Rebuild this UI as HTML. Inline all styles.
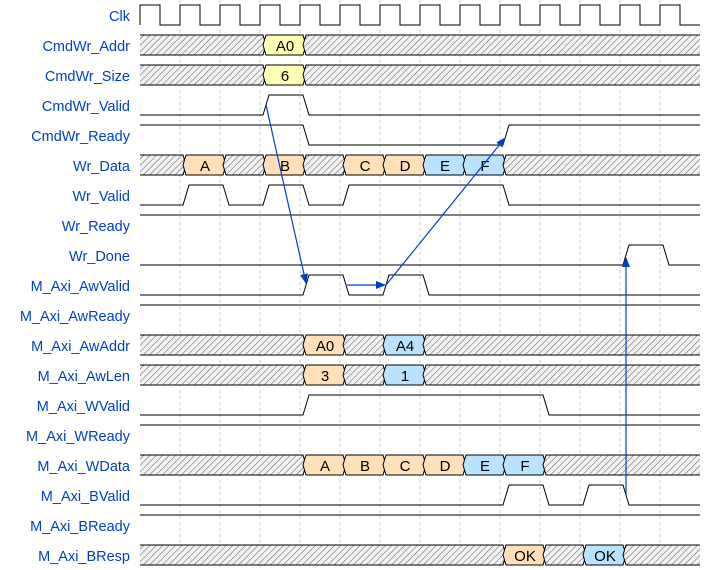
<!DOCTYPE html>
<html><head><meta charset="utf-8"><style>
body{margin:0;background:#fff}
svg{display:block;font-family:"Liberation Sans",sans-serif}
.l{fill:#0041c4;font-size:14.5px;text-anchor:end}
.w{fill:none;stroke:#000;stroke-width:1}
.hf{fill:url(#hp);stroke:none}
.hs{fill:url(#hp);stroke:#000}
.y{fill:#ffffb4;stroke:#000}
.o{fill:#ffe0b9;stroke:#000}
.b{fill:#bae3ff;stroke:#000}
.t{font-size:15px;text-anchor:middle;fill:#000}
.a{stroke:#0041c4;stroke-width:1.2;fill:none;marker-end:url(#ar)}
</style></head><body>
<svg width="720" height="570" viewBox="0 0 720 570">
<defs>
<pattern id="hp" width="4.5" height="4.5" patternUnits="userSpaceOnUse" patternTransform="rotate(45)">
<rect width="4.5" height="4.5" fill="#f2f2f2"/><line x1="0" y1="0" x2="0" y2="4.5" stroke="#666" stroke-width="1.1"/></pattern>
<marker id="ar" markerWidth="10" markerHeight="8" refX="9" refY="4" orient="auto" markerUnits="userSpaceOnUse"><path d="M0,0 L10,4 L0,8 z" fill="#0041c4"/></marker>
</defs>
<g stroke="#ccc" stroke-dasharray="3,3">
<line x1="180" y1="0" x2="180" y2="570"/><line x1="220" y1="0" x2="220" y2="570"/><line x1="260" y1="0" x2="260" y2="570"/><line x1="300" y1="0" x2="300" y2="570"/><line x1="340" y1="0" x2="340" y2="570"/><line x1="380" y1="0" x2="380" y2="570"/><line x1="420" y1="0" x2="420" y2="570"/><line x1="460" y1="0" x2="460" y2="570"/><line x1="500" y1="0" x2="500" y2="570"/><line x1="540" y1="0" x2="540" y2="570"/><line x1="580" y1="0" x2="580" y2="570"/><line x1="620" y1="0" x2="620" y2="570"/><line x1="660" y1="0" x2="660" y2="570"/>
</g>
<g>
<text class="l" x="130" y="21">Clk</text>
<text class="l" x="130" y="51">CmdWr_Addr</text>
<text class="l" x="130" y="81">CmdWr_Size</text>
<text class="l" x="130" y="111">CmdWr_Valid</text>
<text class="l" x="130" y="141">CmdWr_Ready</text>
<text class="l" x="130" y="171">Wr_Data</text>
<text class="l" x="130" y="201">Wr_Valid</text>
<text class="l" x="130" y="231">Wr_Ready</text>
<text class="l" x="130" y="261">Wr_Done</text>
<text class="l" x="130" y="291">M_Axi_AwValid</text>
<text class="l" x="130" y="321">M_Axi_AwReady</text>
<text class="l" x="130" y="351">M_Axi_AwAddr</text>
<text class="l" x="130" y="381">M_Axi_AwLen</text>
<text class="l" x="130" y="411">M_Axi_WValid</text>
<text class="l" x="130" y="441">M_Axi_WReady</text>
<text class="l" x="130" y="471">M_Axi_WData</text>
<text class="l" x="130" y="501">M_Axi_BValid</text>
<text class="l" x="130" y="531">M_Axi_BReady</text>
<text class="l" x="130" y="561">M_Axi_BResp</text>
</g>
<polyline class="w" points="140,25 140,5 160,5 160,25 180,25 180,5 200,5 200,25 220,25 220,5 240,5 240,25 260,25 260,5 280,5 280,25 300,25 300,5 320,5 320,25 340,25 340,5 360,5 360,25 380,25 380,5 400,5 400,25 420,25 420,5 440,5 440,25 460,25 460,5 480,5 480,25 500,25 500,5 520,5 520,25 540,25 540,5 560,5 560,25 580,25 580,5 600,5 600,25 620,25 620,5 640,5 640,25 660,25 660,5 680,5 680,25 700,25"/>
<g transform="translate(0,45)">
<polygon class="hf" points="140,-10 263,-10 266,0 263,10 140,10"/><polyline class="w" points="140,-10 263,-10 266,0 263,10 140,10"/>
<polygon class="y" points="263,0 266,-10 303,-10 306,0 303,10 266,10"/><text class="t" x="285" y="6">A0</text>
<polygon class="hf" points="303,0 306,-10 700,-10 700,10 306,10"/><polyline class="w" points="700,-10 306,-10 303,0 306,10 700,10"/>
</g>
<g transform="translate(0,75)">
<polygon class="hf" points="140,-10 263,-10 266,0 263,10 140,10"/><polyline class="w" points="140,-10 263,-10 266,0 263,10 140,10"/>
<polygon class="y" points="263,0 266,-10 303,-10 306,0 303,10 266,10"/><text class="t" x="285" y="6">6</text>
<polygon class="hf" points="303,0 306,-10 700,-10 700,10 306,10"/><polyline class="w" points="700,-10 306,-10 303,0 306,10 700,10"/>
</g>
<polyline class="w" transform="translate(0,105)" points="140,10 263,10 269,-10 303,-10 309,10 700,10"/>
<polyline class="w" transform="translate(0,135)" points="140,-10 303,-10 309,10 503,10 509,-10 700,-10"/>
<g transform="translate(0,165)">
<polygon class="hf" points="140,-10 183,-10 186,0 183,10 140,10"/><polyline class="w" points="140,-10 183,-10 186,0 183,10 140,10"/>
<polygon class="o" points="183,0 186,-10 223,-10 226,0 223,10 186,10"/><text class="t" x="205" y="6">A</text>
<polygon class="hs" points="223,0 226,-10 263,-10 266,0 263,10 226,10"/>
<polygon class="o" points="263,0 266,-10 303,-10 306,0 303,10 266,10"/><text class="t" x="285" y="6">B</text>
<polygon class="hs" points="303,0 306,-10 343,-10 346,0 343,10 306,10"/>
<polygon class="o" points="343,0 346,-10 383,-10 386,0 383,10 346,10"/><text class="t" x="365" y="6">C</text>
<polygon class="o" points="383,0 386,-10 423,-10 426,0 423,10 386,10"/><text class="t" x="405" y="6">D</text>
<polygon class="b" points="423,0 426,-10 463,-10 466,0 463,10 426,10"/><text class="t" x="445" y="6">E</text>
<polygon class="b" points="463,0 466,-10 503,-10 506,0 503,10 466,10"/><text class="t" x="485" y="6">F</text>
<polygon class="hf" points="503,0 506,-10 700,-10 700,10 506,10"/><polyline class="w" points="700,-10 506,-10 503,0 506,10 700,10"/>
</g>
<polyline class="w" transform="translate(0,195)" points="140,10 183,10 189,-10 223,-10 229,10 263,10 269,-10 303,-10 309,10 343,10 349,-10 503,-10 509,10 700,10"/>
<polyline class="w" transform="translate(0,225)" points="140,-10 700,-10"/>
<polyline class="w" transform="translate(0,255)" points="140,10 623,10 629,-10 663,-10 669,10 700,10"/>
<polyline class="w" transform="translate(0,285)" points="140,10 303,10 309,-10 343,-10 349,10 383,10 389,-10 423,-10 429,10 700,10"/>
<polyline class="w" transform="translate(0,315)" points="140,-10 700,-10"/>
<g transform="translate(0,345)">
<polygon class="hf" points="140,-10 303,-10 306,0 303,10 140,10"/><polyline class="w" points="140,-10 303,-10 306,0 303,10 140,10"/>
<polygon class="o" points="303,0 306,-10 343,-10 346,0 343,10 306,10"/><text class="t" x="325" y="6">A0</text>
<polygon class="hs" points="343,0 346,-10 383,-10 386,0 383,10 346,10"/>
<polygon class="b" points="383,0 386,-10 423,-10 426,0 423,10 386,10"/><text class="t" x="405" y="6">A4</text>
<polygon class="hf" points="423,0 426,-10 700,-10 700,10 426,10"/><polyline class="w" points="700,-10 426,-10 423,0 426,10 700,10"/>
</g>
<g transform="translate(0,375)">
<polygon class="hf" points="140,-10 303,-10 306,0 303,10 140,10"/><polyline class="w" points="140,-10 303,-10 306,0 303,10 140,10"/>
<polygon class="o" points="303,0 306,-10 343,-10 346,0 343,10 306,10"/><text class="t" x="325" y="6">3</text>
<polygon class="hs" points="343,0 346,-10 383,-10 386,0 383,10 346,10"/>
<polygon class="b" points="383,0 386,-10 423,-10 426,0 423,10 386,10"/><text class="t" x="405" y="6">1</text>
<polygon class="hf" points="423,0 426,-10 700,-10 700,10 426,10"/><polyline class="w" points="700,-10 426,-10 423,0 426,10 700,10"/>
</g>
<polyline class="w" transform="translate(0,405)" points="140,10 303,10 309,-10 543,-10 549,10 700,10"/>
<polyline class="w" transform="translate(0,435)" points="140,-10 700,-10"/>
<g transform="translate(0,465)">
<polygon class="hf" points="140,-10 303,-10 306,0 303,10 140,10"/><polyline class="w" points="140,-10 303,-10 306,0 303,10 140,10"/>
<polygon class="o" points="303,0 306,-10 343,-10 346,0 343,10 306,10"/><text class="t" x="325" y="6">A</text>
<polygon class="o" points="343,0 346,-10 383,-10 386,0 383,10 346,10"/><text class="t" x="365" y="6">B</text>
<polygon class="o" points="383,0 386,-10 423,-10 426,0 423,10 386,10"/><text class="t" x="405" y="6">C</text>
<polygon class="o" points="423,0 426,-10 463,-10 466,0 463,10 426,10"/><text class="t" x="445" y="6">D</text>
<polygon class="b" points="463,0 466,-10 503,-10 506,0 503,10 466,10"/><text class="t" x="485" y="6">E</text>
<polygon class="b" points="503,0 506,-10 543,-10 546,0 543,10 506,10"/><text class="t" x="525" y="6">F</text>
<polygon class="hf" points="543,0 546,-10 700,-10 700,10 546,10"/><polyline class="w" points="700,-10 546,-10 543,0 546,10 700,10"/>
</g>
<polyline class="w" transform="translate(0,495)" points="140,10 503,10 509,-10 543,-10 549,10 583,10 589,-10 623,-10 629,10 700,10"/>
<polyline class="w" transform="translate(0,525)" points="140,-10 700,-10"/>
<g transform="translate(0,555)">
<polygon class="hf" points="140,-10 503,-10 506,0 503,10 140,10"/><polyline class="w" points="140,-10 503,-10 506,0 503,10 140,10"/>
<polygon class="o" points="503,0 506,-10 543,-10 546,0 543,10 506,10"/><text class="t" x="525" y="6">OK</text>
<polygon class="hs" points="543,0 546,-10 583,-10 586,0 583,10 546,10"/>
<polygon class="b" points="583,0 586,-10 623,-10 626,0 623,10 586,10"/><text class="t" x="605" y="6">OK</text>
<polygon class="hf" points="623,0 626,-10 700,-10 700,10 626,10"/><polyline class="w" points="700,-10 626,-10 623,0 626,10 700,10"/>
</g>
<line class="a" x1="266" y1="105" x2="306" y2="283"/>
<line class="a" x1="347" y1="285" x2="385" y2="285"/>
<line class="a" x1="386" y1="285" x2="505" y2="138"/>
<line class="a" x1="626" y1="495" x2="626" y2="258"/>
</svg>
</body></html>
